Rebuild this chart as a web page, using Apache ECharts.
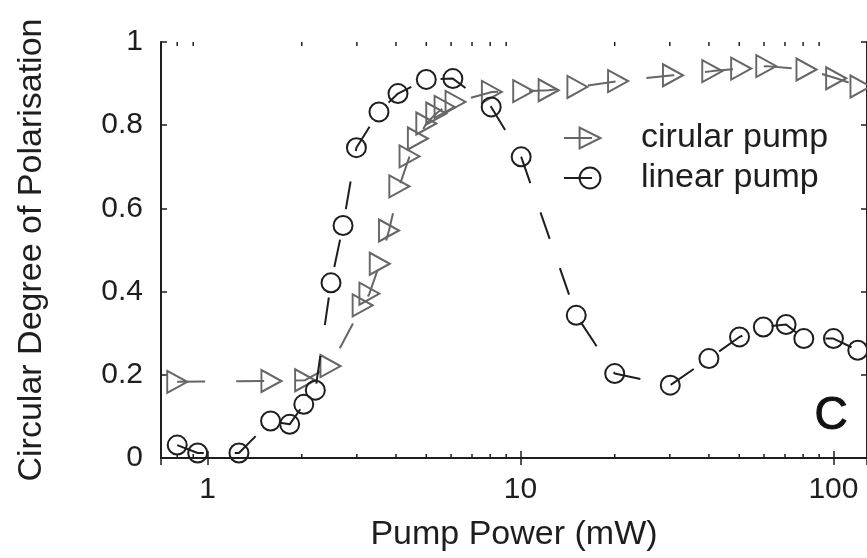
<!DOCTYPE html>
<html>
<head>
<meta charset="utf-8">
<script src="https://cdn.jsdelivr.net/npm/echarts@6/dist/echarts.min.js"></script>
<style>
  html, body { margin: 0; padding: 0; background: #fff; }
  #chart { width: 867px; height: 558px; }
</style>
</head>
<body>
<div id="chart"></div>
<script>
// Pump power (mW) and circular degree of polarisation for the two pump polarisations
const circularPower = [0.8, 1.6, 2.05, 2.47, 3.13, 3.29, 3.55, 3.8, 4.1, 4.42, 4.7, 5.0, 5.38, 5.72, 6.2,
  8.1, 10.2, 12.3, 15.2, 20.5, 30.7, 41, 50.7, 61, 82, 102, 122];
const circularDop = [0.183, 0.185, 0.187, 0.221, 0.367, 0.395, 0.467, 0.547, 0.653, 0.725, 0.768, 0.804, 0.828, 0.844, 0.856,
  0.88, 0.882, 0.884, 0.892, 0.906, 0.92, 0.93, 0.936, 0.942, 0.934, 0.913, 0.893];

const linearPower = [0.8, 0.93, 1.26, 1.59, 1.83, 2.03, 2.21, 2.48, 2.71, 2.99, 3.53, 4.06, 5.0, 6.08,
  8.06, 10.05, 15.07, 20, 30.1, 40, 50.1, 59.7, 70.6, 80.4, 100, 119.6];
const linearDop = [0.031, 0.012, 0.012, 0.089, 0.081, 0.129, 0.163, 0.421, 0.559, 0.746, 0.832, 0.876, 0.91, 0.912,
  0.844, 0.724, 0.343, 0.203, 0.175, 0.239, 0.291, 0.315, 0.321, 0.287, 0.287, 0.259];

// Axis ranges and the small intermediate ticks on the log axis
const powerMin = 0.71;
const powerMax = 128;
const minorTicks = [0.8, 0.9, 2, 3, 4, 5, 6, 7, 8, 9, 20, 30, 40, 50, 60, 70, 80, 90];

const FONT = '"Liberation Sans", Arial, Helvetica, sans-serif';
const INK = '#1e1e1e';
const GREY = '#666';

const chart = echarts.init(document.getElementById('chart'), null, { renderer: 'canvas' });

const logAxisBase = {
  type: 'log',
  logBase: 10,
  min: powerMin,
  max: powerMax,
  axisLine: { show: true, lineStyle: { color: INK, width: 2 } },
  axisTick: { show: true, inside: true, length: 7, lineStyle: { color: INK, width: 1.5 } },
  splitLine: { show: false },
  minorTick: { show: false }
};

const valueAxisBase = {
  type: 'value',
  min: 0,
  max: 1,
  interval: 0.2,
  axisLine: { show: true, lineStyle: { color: INK, width: 2 } },
  axisTick: { show: true, inside: true, length: 6, lineStyle: { color: INK, width: 1.5 } },
  splitLine: { show: false }
};

const dash = [28, 31];

chart.setOption({
  backgroundColor: '#fff',
  animation: false,
  grid: { left: 161, right: -1, top: 42, bottom: 100, containLabel: false },
  xAxis: [
    Object.assign({}, logAxisBase, {
      position: 'bottom',
      name: 'Pump Power (mW)',
      nameLocation: 'middle',
      nameGap: 60,
      nameTextStyle: { fontFamily: FONT, fontSize: 34, color: INK },
      axisLabel: {
        show: true, showMinLabel: false, showMaxLabel: false,
        margin: 17, fontFamily: FONT, fontSize: 30, color: INK
      }
    }),
    Object.assign({}, logAxisBase, {
      position: 'top',
      axisLabel: { show: false }
    })
  ],
  yAxis: [
    Object.assign({}, valueAxisBase, {
      position: 'left',
      name: 'Circular Degree of Polarisation',
      nameLocation: 'middle',
      nameRotate: 90,
      nameGap: 112,
      nameTextStyle: { fontFamily: FONT, fontSize: 34, color: INK },
      axisLabel: { show: true, margin: 18, fontFamily: FONT, fontSize: 30, color: INK }
    }),
    Object.assign({}, valueAxisBase, {
      position: 'right',
      axisLabel: { show: false }
    })
  ],
  legend: {
    orient: 'vertical',
    left: 563,
    top: 121,
    padding: 0,
    itemGap: 6,
    itemWidth: 52,
    itemHeight: 26,
    data: ['cirular pump', 'linear pump'],
    textStyle: {
      fontFamily: FONT, fontSize: 34, color: INK,
      lineHeight: 26, padding: [0, 0, 0, 20]
    }
  },
  graphic: [
    {
      type: 'text',
      left: 814,
      top: 393,
      style: { text: 'C', fontFamily: FONT, fontSize: 46, fill: '#111', stroke: '#111', lineWidth: 1 }
    }
  ],
  series: [
    {
      name: 'cirular pump',
      type: 'line',
      xAxisIndex: 0,
      yAxisIndex: 0,
      data: circularPower.map((p, i) => [p, circularDop[i]]),
      symbol: 'triangle',
      symbolSize: [22, 20],
      symbolRotate: -90,
      showAllSymbol: true,
      clip: false,
      color: GREY,
      lineStyle: { color: GREY, width: 2, type: dash, dashOffset: 0 },
      itemStyle: { color: 'rgba(0,0,0,0)', borderColor: GREY, borderWidth: 2 },
      z: 3
    },
    {
      name: 'linear pump',
      type: 'line',
      xAxisIndex: 0,
      yAxisIndex: 0,
      data: linearPower.map((p, i) => [p, linearDop[i]]),
      symbol: 'circle',
      symbolSize: 19,
      showAllSymbol: true,
      clip: false,
      color: INK,
      lineStyle: { color: INK, width: 2, type: dash, dashOffset: 0 },
      itemStyle: { color: 'rgba(0,0,0,0)', borderColor: INK, borderWidth: 2 },
      z: 4
    },
    {
      // short intermediate ticks at 2..9 of each decade, on the bottom and top edges
      name: 'minor ticks',
      type: 'custom',
      xAxisIndex: 0,
      yAxisIndex: 0,
      silent: true,
      clip: false,
      data: minorTicks.map(v => [v, 0]),
      renderItem: function (params, api) {
        const v = api.value(0);
        const b = api.coord([v, 0]);
        const t = api.coord([v, 1]);
        const st = { stroke: INK, lineWidth: 1.5 };
        return {
          type: 'group',
          children: [
            { type: 'line', shape: { x1: b[0], y1: b[1], x2: b[0], y2: b[1] - 4 }, style: st },
            { type: 'line', shape: { x1: t[0], y1: t[1], x2: t[0], y2: t[1] + 4 }, style: st }
          ]
        };
      },
      z: 2
    }
  ]
});
</script>
</body>
</html>
